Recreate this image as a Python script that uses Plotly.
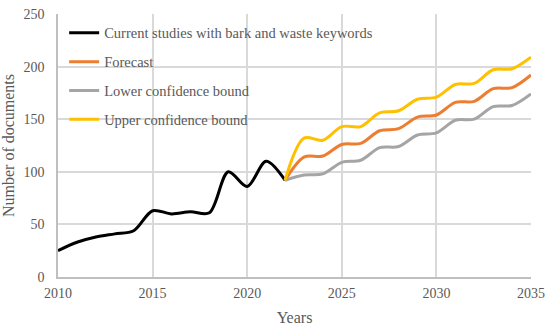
import plotly.graph_objects as go

years_hist = [2010, 2011, 2012, 2013, 2014, 2015, 2016, 2017, 2018, 2019, 2020, 2021, 2022]
current = [25, 33, 38, 41, 44, 63, 60, 62, 61, 100, 86, 110, 92]

years_fc = [2022, 2023, 2024, 2025, 2026, 2027, 2028, 2029, 2030, 2031, 2032, 2033, 2034, 2035]
forecast = [92, 114, 115, 126, 127, 139, 141, 152, 154, 166, 167, 179, 180, 192]
lower = [92, 97, 98, 109, 111, 123, 124, 135, 137, 149, 150, 162, 163, 174]
upper = [92, 132, 130, 143, 143, 156, 158, 169, 171, 183, 184, 197, 198, 209]

names = ["Current studies with bark and waste keywords", "Forecast",
         "Lower confidence bound", "Upper confidence bound"]
colors = ["#000000", "#ED7D31", "#A5A5A5", "#FFC000"]

fig = go.Figure()
series = [(years_hist, current), (years_fc, forecast), (years_fc, lower), (years_fc, upper)]
for i, ((x, y), n, c) in enumerate(zip(series, names, colors)):
    fig.add_trace(go.Scatter(x=x, y=y, mode="lines", name=n, legendgroup=str(i),
                             line=dict(color=c, width=3, shape="spline", smoothing=0.9)))

font = "Liberation Serif, Times New Roman, serif"
fig.update_layout(
    width=550, height=326,
    margin=dict(l=58, r=19, t=14, b=49),
    paper_bgcolor="white", plot_bgcolor="white",
    font=dict(family=font, color="#595959", size=14),
    legend=dict(x=0.013, y=0.989, xanchor="left", yanchor="top", bgcolor="rgba(0,0,0,0)",
                font=dict(size=14.5, color="#595959"), tracegroupgap=7,
                traceorder="grouped"),
    xaxis=dict(range=[2010, 2035], tickvals=[2010, 2015, 2020, 2025, 2030, 2035],
               showgrid=True, gridcolor="#D9D9D9", gridwidth=1.5,
               showline=True, linecolor="#BFBFBF", linewidth=1.5, zeroline=False,
               ticks="", ticklabelstandoff=2, automargin=False, ticklabeloverflow="allow",
               title=dict(text="Years", font=dict(size=16))),
    yaxis=dict(range=[0, 250], tickvals=[0, 50, 100, 150, 200, 250],
               showgrid=True, gridcolor="#D9D9D9", gridwidth=1.5,
               showline=True, linecolor="#BFBFBF", linewidth=1.5, zeroline=False,
               ticks="", ticklabelstandoff=9, automargin=False, ticklabeloverflow="allow",
               title=dict(text="Number of documents", font=dict(size=16))),
)
fig.write_html("out.html", config={"displayModeBar": False},
               post_script="document.body.style.margin='0';")
